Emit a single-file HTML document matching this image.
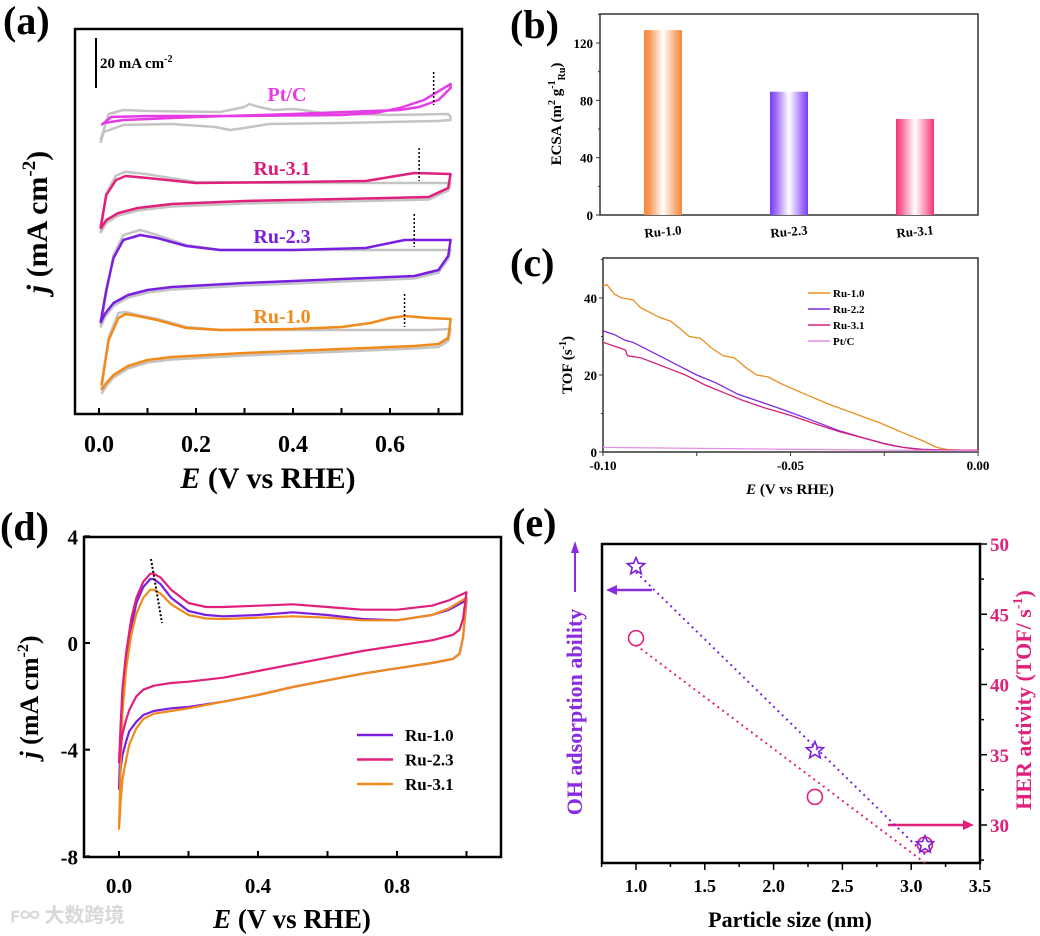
<!DOCTYPE html>
<html><head><meta charset="utf-8"><style>
html,body{margin:0;padding:0;background:#fff;}
svg{display:block;font-family:"Liberation Serif",serif;font-weight:bold;}
</style></head><body>
<svg id="fig" width="1040" height="936" viewBox="0 0 1040 936" xmlns="http://www.w3.org/2000/svg">
<defs>
<linearGradient id="gO" x1="0" x2="1" y1="0" y2="0"><stop offset="0" stop-color="#f5883a"/><stop offset="0.15" stop-color="#f79a5a"/><stop offset="0.5" stop-color="#fff"/><stop offset="0.85" stop-color="#f8a570"/><stop offset="1" stop-color="#f5883a"/></linearGradient>
<linearGradient id="gP" x1="0" x2="1" y1="0" y2="0"><stop offset="0" stop-color="#7a3cf5"/><stop offset="0.15" stop-color="#9a6af7"/><stop offset="0.5" stop-color="#fff"/><stop offset="0.85" stop-color="#9f70f8"/><stop offset="1" stop-color="#7a3cf5"/></linearGradient>
<linearGradient id="gK" x1="0" x2="1" y1="0" y2="0"><stop offset="0" stop-color="#f5307a"/><stop offset="0.15" stop-color="#f76a9a"/><stop offset="0.5" stop-color="#fff"/><stop offset="0.85" stop-color="#f870a0"/><stop offset="1" stop-color="#f5307a"/></linearGradient>
</defs>
<!-- panel labels -->
<text x="3" y="34" font-size="40">(a)</text>
<text x="510" y="38" font-size="40">(b)</text>
<text x="510" y="276" font-size="40">(c)</text>
<text x="0" y="540" font-size="40">(d)</text>
<text x="512" y="536" font-size="40">(e)</text>
<text x="10" y="922" font-size="20" fill="#d8d8d8" font-family="'Noto Sans CJK SC',sans-serif">ꜰ∞ 大数跨境</text>

<!-- panel a static -->
<g id="pa">
<rect x="75" y="29" width="387" height="385" fill="none" stroke="#000" stroke-width="2.5"/>
<line x1="96" y1="38" x2="96" y2="88" stroke="#000" stroke-width="2"/>
<text x="100" y="68" font-size="15">20 mA cm<tspan font-size="10" dy="-6">-2</tspan></text>
<text x="287" y="101" font-size="20" fill="#e63ce6" text-anchor="middle">Pt/C</text>
<text x="282" y="175" font-size="20" fill="#d81b7a" text-anchor="middle">Ru-3.1</text>
<text x="282" y="243" font-size="20" fill="#7a1fe0" text-anchor="middle">Ru-2.3</text>
<text x="282" y="323" font-size="20" fill="#f08a1a" text-anchor="middle">Ru-1.0</text>
<text transform="translate(47,222) rotate(-90)" font-size="30" text-anchor="middle"><tspan font-style="italic">j</tspan> (mA cm<tspan font-size="19" dy="-12">-2</tspan><tspan dy="12">)</tspan></text>
<text x="268" y="488" font-size="30" text-anchor="middle"><tspan font-style="italic">E</tspan> (V vs RHE)</text>
</g>

<!-- panel b static -->
<g id="pb">
<rect x="600" y="14" width="378" height="201" fill="none" stroke="#333" stroke-width="1.5"/>
<text transform="translate(561,114) rotate(-90)" font-size="15" text-anchor="middle">ECSA (m<tspan font-size="10" dy="-6">2</tspan><tspan dy="6"> g</tspan><tspan font-size="10" dy="-6">-1</tspan><tspan font-size="10" dy="10">Ru</tspan><tspan dy="-4">)</tspan></text>
</g>

<!-- panel c static -->
<g id="pc">
<rect x="603" y="258" width="375" height="194" fill="none" stroke="#333" stroke-width="1.5"/>
<text transform="translate(572,365) rotate(-90)" font-size="15" text-anchor="middle">TOF (s<tspan font-size="10" dy="-6">-1</tspan><tspan dy="6">)</tspan></text>
<text x="790" y="494" font-size="15" text-anchor="middle"><tspan font-style="italic">E</tspan> (V vs RHE)</text>
</g>

<!-- panel d static -->
<g id="pd">
<rect x="84" y="537" width="417" height="320" fill="none" stroke="#000" stroke-width="2.5"/>
<text transform="translate(38,697) rotate(-90)" font-size="26" text-anchor="middle"><tspan font-style="italic">j</tspan> (mA cm<tspan font-size="16" dy="-10">-2</tspan><tspan dy="10">)</tspan></text>
<text x="292" y="928" font-size="27" text-anchor="middle"><tspan font-style="italic">E</tspan> (V vs RHE)</text>
</g>

<!-- panel e static -->
<g id="pe">
<rect x="602" y="544" width="378" height="319" fill="none" stroke="#000" stroke-width="2.5"/>
<text x="790" y="927" font-size="22" text-anchor="middle">Particle size (nm)</text>
<text transform="translate(582,712) rotate(-90)" font-size="22" fill="#8a2be2" text-anchor="middle">OH adsorption ability</text>
<line x1="575" y1="592" x2="575" y2="550" stroke="#8a2be2" stroke-width="2"/>
<polygon points="575,541 571,553 579,553" fill="#8a2be2"/>
<text transform="translate(1031,700) rotate(-90)" font-size="22" fill="#e0207a" text-anchor="middle">HER activity (TOF/ s<tspan font-size="14" dy="-9">-1</tspan><tspan dy="9">)</tspan></text>
<line x1="652" y1="590" x2="614" y2="590" stroke="#8a2be2" stroke-width="2.5"/>
<polygon points="606,590 617,585 617,595" fill="#8a2be2"/>
<line x1="888" y1="825" x2="966" y2="825" stroke="#e0207a" stroke-width="2.5"/>
<polygon points="974,825 963,820 963,830" fill="#e0207a"/>
</g>
</svg>
<script>
// ===== Panel (a) data: CV curves (E in V, j in mA cm^-2 relative to each trace baseline)
const aRu10UpE=[0.005,0.02,0.04,0.055,0.08,0.12,0.18,0.25,0.4,0.5,0.56,0.6,0.63,0.68,0.725];
const aRu10UpJ=[-22,-4,4.8,6.4,5.6,4,0.8,0,0.4,1.2,2.8,4.8,5.6,4.8,4.4];
const aRu10LoE=[0.725,0.72,0.7,0.65,0.5,0.3,0.15,0.1,0.06,0.03,0.015,0.005];
const aRu10LoJ=[4,-3.2,-5.6,-6.4,-7.6,-9.2,-10.8,-12,-14.4,-18,-21.2,-24];
const aRu10GUpJ=[-24,-3,6.8,7.2,6,4.4,1.2,0,0,0,0,0,0,0,0.4];
const aRu10GLoJ=[0.4,-4.4,-6.8,-7.4,-8.6,-10.2,-11.8,-13,-15.4,-19,-22.4,-25.6];
const aRu23UpE=[0.003,0.015,0.03,0.05,0.085,0.12,0.18,0.25,0.4,0.55,0.6,0.63,0.68,0.725];
const aRu23UpJ=[-29.2,-16,-3.2,4,6,4.8,1.6,0,0,0.8,2.8,4,4,4];
const aRu23LoE=[0.725,0.72,0.7,0.65,0.5,0.3,0.15,0.1,0.06,0.03,0.012,0.003];
const aRu23LoJ=[4,-2.4,-8,-10.4,-11.6,-13.2,-14.8,-16,-18,-21.2,-25.6,-29.2];
const aRu23GUpJ=[-31,-17,-2,6,8,6,2,0,0,0,0,0,0,0];
const aRu23GLoJ=[0,-3.6,-9,-11.4,-12.6,-14.2,-15.8,-17,-19,-22.4,-27,-31];
const aRu31UpE=[0.003,0.015,0.035,0.055,0.1,0.2,0.4,0.55,0.6,0.65,0.725];
const aRu31UpJ=[-18,-4.8,1.2,2.8,2,0,0.4,0.8,2.4,4,3.6];
const aRu31LoE=[0.725,0.72,0.68,0.5,0.3,0.15,0.08,0.04,0.015,0.003];
const aRu31LoJ=[3.6,-2,-5.6,-6.4,-7.2,-8.4,-10,-12,-14.8,-18.4];
const aRu31GUpJ=[-20,-4,3,4.5,3.5,0.4,0,0,0,0,0];
const aRu31GLoJ=[0,-3,-6.6,-7.4,-8.2,-9.4,-11,-13,-16,-20];
const aPtUpE=[0.005,0.025,0.1,0.3,0.5,0.57,0.62,0.67,0.725];
const aPtUpJ=[-2,1.2,1.6,1.6,2,2.8,4.8,8,14.4];
const aPtLoE=[0.725,0.7,0.66,0.62,0.4,0.2,0.05,0.01,0.005];
const aPtLoJ=[12.8,8,5.2,4,2.4,1.2,0,-1.2,-2];
const aPtGUpE=[0.003,0.02,0.05,0.1,0.25,0.3,0.31,0.33,0.36,0.4,0.42,0.46,0.6,0.72,0.725];
const aPtGUpJ=[-8,2.4,4,3.6,3.2,5.2,6.4,5.2,4,4.4,4,2.8,2,2.4,1.2];
const aPtGLoE=[0.725,0.7,0.5,0.35,0.3,0.27,0.24,0.15,0.05,0.01,0.003];
const aPtGLoJ=[0,-0.4,-1.2,-1.6,-3.2,-4,-2.8,-1.6,-2,-4.8,-9.2];
const aMarkE=[0.69,0.66,0.65,0.63];
const aTicks=[0.0,0.2,0.4,0.6];
// ===== Panel (b) data
const bCats=["Ru-1.0","Ru-2.3","Ru-3.1"];
const bVals=[129,86,67];
const bTicks=[0,40,80,120];
// ===== Panel (c) data
const cRu10E=[-0.1,-0.099,-0.097,-0.095,-0.092,-0.09,-0.087,-0.085,-0.082,-0.08,-0.077,-0.074,-0.071,-0.068,-0.065,-0.062,-0.059,-0.056,-0.052,-0.046,-0.04,-0.033,-0.026,-0.02,-0.015,-0.011,-0.008,-0.004,0];
const cRu10V=[43,43.5,41,40,39.5,37.5,36,35,34,32.5,30,29.5,27,25,24.5,22,20,19.5,17.5,15,12.5,10,7.5,5,3,1.2,0.6,0.5,0.4];
const cRu22E=[-0.1,-0.097,-0.094,-0.092,-0.089,-0.086,-0.083,-0.079,-0.075,-0.07,-0.064,-0.058,-0.052,-0.045,-0.037,-0.03,-0.025,-0.02,-0.015,-0.008,0];
const cRu22V=[31.5,30.5,29,28.5,27,25.5,24,22,20,18,15,13,11,8.5,5.5,3.5,2.2,1.2,0.7,0.5,0.5];
const cRu31E=[-0.1,-0.097,-0.094,-0.0935,-0.09,-0.086,-0.082,-0.078,-0.073,-0.068,-0.063,-0.057,-0.05,-0.044,-0.037,-0.03,-0.025,-0.02,-0.015,-0.008,0];
const cRu31V=[28.5,27.5,26.5,25,24.5,23,21.5,20,17.5,15.5,13.5,11.5,9.5,7.5,5.3,3.5,2.1,1.2,0.6,0.5,0.5];
const cPtE=[-0.1,-0.05,0];
const cPtV=[1.2,0.7,0.3];
const cYTicks=[0,20,40];
const cXTicks=[-0.10,-0.05,0.00];
const cXTickLabels=["-0.10","-0.05","0.00"];
const cLegend=["Ru-1.0","Ru-2.2","Ru-3.1","Pt/C"];
// ===== Panel (d) data
const dRu10UpE=[0,0.005,0.01,0.02,0.035,0.05,0.07,0.09,0.1,0.12,0.15,0.2,0.25,0.3,0.4,0.5,0.6,0.7,0.8,0.9,0.95,1.0];
const dRu10UpJ=[-5.5,-3.5,-2,-0.7,0.6,1.5,2.1,2.4,2.4,2.2,1.7,1.2,1.05,1.0,1.05,1.15,1.05,0.9,0.85,1.05,1.25,1.6];
const dRu10LoE=[1.0,0.99,0.98,0.96,0.9,0.8,0.7,0.6,0.5,0.4,0.3,0.2,0.15,0.1,0.07,0.05,0.03,0.02,0.01,0.005,0];
const dRu10LoJ=[1.6,0.2,-0.4,-0.6,-0.75,-0.95,-1.15,-1.4,-1.65,-1.95,-2.2,-2.4,-2.45,-2.55,-2.7,-2.95,-3.3,-3.7,-4.2,-4.7,-5.5];
const dRu23UpE=[0,0.005,0.01,0.02,0.035,0.05,0.07,0.09,0.1,0.12,0.15,0.2,0.25,0.3,0.4,0.5,0.6,0.7,0.8,0.9,0.95,1.0];
const dRu23UpJ=[-4.5,-3,-1.7,-0.4,0.9,1.7,2.3,2.6,2.6,2.45,2.0,1.5,1.35,1.35,1.4,1.45,1.35,1.25,1.25,1.4,1.6,1.9];
const dRu23LoE=[1.0,0.99,0.98,0.96,0.9,0.8,0.7,0.6,0.5,0.4,0.3,0.2,0.15,0.1,0.07,0.05,0.03,0.02,0.01,0.005,0];
const dRu23LoJ=[1.9,0.9,0.5,0.3,0.1,-0.1,-0.3,-0.55,-0.8,-1.05,-1.3,-1.45,-1.5,-1.6,-1.75,-2.0,-2.5,-2.9,-3.4,-3.9,-4.5];
const dRu31UpE=[0,0.005,0.01,0.02,0.035,0.05,0.07,0.09,0.1,0.12,0.15,0.2,0.25,0.3,0.4,0.5,0.6,0.7,0.8,0.9,0.95,1.0];
const dRu31UpJ=[-7,-4.5,-2.6,-1.0,0.3,1.1,1.7,2.0,2.0,1.85,1.45,1.05,0.92,0.9,0.95,1.0,0.95,0.85,0.85,1.05,1.3,1.7];
const dRu31LoE=[1.0,0.99,0.98,0.96,0.9,0.8,0.7,0.6,0.5,0.4,0.3,0.2,0.15,0.1,0.07,0.05,0.03,0.02,0.01,0.005,0];
const dRu31LoJ=[1.7,0.2,-0.4,-0.6,-0.75,-0.95,-1.15,-1.4,-1.65,-1.95,-2.2,-2.45,-2.55,-2.65,-2.85,-3.2,-3.8,-4.4,-5.1,-5.9,-7];
const dYTicks=[4,0,-4,-8];
const dXTicks=[0.0,0.4,0.8];
const dLegend=["Ru-1.0","Ru-2.3","Ru-3.1"];
// ===== Panel (e) data
const eSizes=[1.0,2.3,3.1];
const eOH=[48.4,35.3,28.6];
const eHER=[43.3,32.0,28.6];
const eFitX=[1.0,3.1];
const eFitOH=[48.0,27.9];
const eFitHER=[42.8,27.3];
const eXTicks=[1.0,1.5,2.0,2.5,3.0,3.5];
const eYTicks=[30,35,40,45,50];

const NS="http://www.w3.org/2000/svg";
const svg=document.getElementById('fig');
function mk(tag,attrs,parent){const el=document.createElementNS(NS,tag);for(const k in attrs)el.setAttribute(k,attrs[k]);(parent||svg).appendChild(el);return el;}
function pathD(xs,ys,fx,fy){return xs.map((x,i)=>(i?'L':'M')+fx(x).toFixed(1)+','+fy(ys[i]).toFixed(1)).join(' ');}

// ---- Panel a
const pa=document.getElementById('pa');
const xa=E=>99+E*485;
function curveA(upE,upJ,loE,loJ,off,color,name,w){
  const fy=j=>off-j*2.5;
  const d=pathD(upE,upJ,xa,fy)+' '+pathD(loE,loJ,xa,fy).replace(/^M/,'L');
  const p=mk('path',{d:d,fill:'none',stroke:color,'stroke-width':w,'stroke-linejoin':'round'},pa);
  
  
}
curveA(aPtGUpE,aPtGUpJ,aPtGLoE,aPtGLoJ,120,'#c4c4c4','ptc-ref-curve',2.5);
curveA(aRu31UpE,aRu31GUpJ,aRu31LoE,aRu31GLoJ,183,'#c4c4c4','ru31-ref-curve',2.5);
curveA(aRu23UpE,aRu23GUpJ,aRu23LoE,aRu23GLoJ,250,'#c4c4c4','ru23-ref-curve',2.5);
curveA(aRu10UpE,aRu10GUpJ,aRu10LoE,aRu10GLoJ,330,'#c4c4c4','ru10-ref-curve',2.5);
curveA(aPtUpE,aPtUpJ,aPtLoE,aPtLoJ,120,'#e63ce6','ptc-curve',2.5);
curveA(aRu31UpE,aRu31UpJ,aRu31LoE,aRu31LoJ,183,'#e0207a','ru31-curve',2.5);
curveA(aRu23UpE,aRu23UpJ,aRu23LoE,aRu23LoJ,250,'#7a1fe0','ru23-curve',2.5);
curveA(aRu10UpE,aRu10UpJ,aRu10LoE,aRu10LoJ,330,'#f08a1a','ru10-curve',2.5);
const markTop=[72,148,214,294];
aMarkE.forEach((E,i)=>{
  const l=mk('line',{x1:xa(E),x2:xa(E),y1:markTop[i],y2:markTop[i]+33,stroke:'#000','stroke-width':1.5,'stroke-dasharray':'2,2'},pa);
  
  
});
for(let E=0;E<=0.7001;E+=0.1){
  const t=mk('line',{x1:xa(E),x2:xa(E),y1:414,y2:408,stroke:'#000','stroke-width':2},pa);
  
  
}
aTicks.forEach(v=>{
  const t=mk('text',{x:xa(v),y:452,'font-size':24,'text-anchor':'middle'},pa);
  t.textContent=v.toFixed(1);
  
  
});

// ---- Panel b
const pb=document.getElementById('pb');
const yb=v=>215-v*(172/120);
const bx=[663,789,915];
const bFill=['url(#gO)','url(#gP)','url(#gK)'];
bVals.forEach((v,i)=>{
  const r=mk('rect',{x:bx[i]-19,y:yb(v),width:38,height:215-yb(v),fill:bFill[i]},pb);
  
  
  const t=mk('text',{x:bx[i],y:236,'font-size':13,'text-anchor':'middle',transform:`rotate(-5 ${bx[i]} 232)`},pb);
  t.textContent=bCats[i];
  
  
});
for(let v=0;v<=140;v+=20){
  const maj=v%40===0;
  const t=mk('line',{x1:600,x2:maj?596:598,y1:yb(v),y2:yb(v),stroke:'#333','stroke-width':1},pb);
  
  
}
bTicks.forEach(v=>{
  const t=mk('text',{x:593,y:yb(v)+5,'font-size':13,'text-anchor':'end'},pb);
  t.textContent=v;
  
  
});

// ---- Panel c
const pc=document.getElementById('pc');
const xc=E=>978+E*3750;
const yc=v=>452-v*3.85;
const cSeries=[[cRu10E,cRu10V,'#e8901e','tof-ru10-line'],[cRu22E,cRu22V,'#7a2be0','tof-ru22-line'],[cRu31E,cRu31V,'#d8207a','tof-ru31-line'],[cPtE,cPtV,'#e58fe5','tof-ptc-line']];
cSeries.forEach(s=>{
  const p=mk('path',{d:pathD(s[0],s[1],xc,yc),fill:'none',stroke:s[2],'stroke-width':1.3},pc);
  
  
});
for(let v=0;v<=50;v+=10){
  const t=mk('line',{x1:603,x2:v%20===0?599:601,y1:yc(v),y2:yc(v),stroke:'#333','stroke-width':1},pc);
  
  
}
cYTicks.forEach(v=>{
  const t=mk('text',{x:597,y:yc(v)+5,'font-size':13,'text-anchor':'end'},pc);
  t.textContent=v;
  
  
});
[-0.1,-0.075,-0.05,-0.025,0].forEach(E=>{
  const t=mk('line',{x1:xc(E),x2:xc(E),y1:452,y2:456,stroke:'#333','stroke-width':1},pc);
  
  
});
cXTicks.forEach((v,i)=>{
  const t=mk('text',{x:xc(v),y:470,'font-size':13,'text-anchor':'middle'},pc);
  t.textContent=cXTickLabels[i];
  
  
});
cLegend.forEach((n,i)=>{
  const y=293+i*16;
  const l=mk('line',{x1:808,x2:830,y1:y,y2:y,stroke:cSeries[i][2],'stroke-width':1.5},pc);
  
  
  const t=mk('text',{x:833,y:y+4,'font-size':11},pc);
  t.textContent=n;
  
  
});

// ---- Panel d
const pd=document.getElementById('pd');
const xd=E=>119+E*347.5;
const yd=j=>643-j*26.67;
const dSeries=[[dRu10UpE,dRu10UpJ,dRu10LoE,dRu10LoJ,'#7a1fe0','cv-ru10-curve'],[dRu31UpE,dRu31UpJ,dRu31LoE,dRu31LoJ,'#f08a1a','cv-ru31-curve'],[dRu23UpE,dRu23UpJ,dRu23LoE,dRu23LoJ,'#e0207a','cv-ru23-curve']];
dSeries.forEach(s=>{
  const d=pathD(s[0],s[1],xd,yd)+' '+pathD(s[2],s[3],xd,yd).replace(/^M/,'L');
  const p=mk('path',{d:d,fill:'none',stroke:s[4],'stroke-width':2.2,'stroke-linejoin':'round'},pd);
  
  
});
const dl=mk('line',{x1:151,y1:559,x2:162,y2:623,stroke:'#000','stroke-width':2,'stroke-dasharray':'2,2'},pd);


dYTicks.forEach(v=>{
  const t=mk('line',{x1:84,x2:90,y1:yd(v),y2:yd(v),stroke:'#000','stroke-width':2},pd);
  
  
  const tx=mk('text',{x:78,y:yd(v)+8,'font-size':21,'text-anchor':'end'},pd);
  tx.textContent=v;
  
  
});
[0,0.2,0.4,0.6,0.8,1.0].forEach(E=>{
  const t=mk('line',{x1:xd(E),x2:xd(E),y1:857,y2:851,stroke:'#000','stroke-width':2},pd);
  
  
});
dXTicks.forEach(v=>{
  const t=mk('text',{x:xd(v),y:893,'font-size':21,'text-anchor':'middle'},pd);
  t.textContent=v.toFixed(1);
  
  
});
const dCol=['#7a1fe0','#e0207a','#f08a1a'];
dLegend.forEach((n,i)=>{
  const y=735+i*24.5;
  const l=mk('line',{x1:357,x2:393,y1:y,y2:y,stroke:dCol[i],'stroke-width':2.5},pd);
  
  
  const t=mk('text',{x:405,y:y+6,'font-size':17},pd);
  t.textContent=n;
  
  
});

// ---- Panel e
const pe=document.getElementById('pe');
const xe=s=>636+(s-1)*137.6;
const ye=v=>544+(50-v)*14.05;
const f1=mk('path',{d:pathD(eFitX,eFitOH,xe,ye),stroke:'#7a1fe0','stroke-width':2,'stroke-dasharray':'2,4',fill:'none'},pe);


const f2=mk('path',{d:pathD(eFitX,eFitHER,xe,ye),stroke:'#e0207a','stroke-width':2,'stroke-dasharray':'2,4',fill:'none'},pe);


function starPts(cx,cy,R,r){const p=[];for(let k=0;k<10;k++){const a=-Math.PI/2+k*Math.PI/5;const rr=k%2?r:R;p.push((cx+rr*Math.cos(a)).toFixed(1)+','+(cy+rr*Math.sin(a)).toFixed(1));}return p.join(' ');}
eSizes.forEach((s,i)=>{
  const c=mk('circle',{cx:xe(s),cy:ye(eHER[i]),r:7.5,fill:'none',stroke:'#e0207a','stroke-width':1.6},pe);
  
  
  const st=mk('polygon',{points:starPts(xe(s),ye(eOH[i]),9,4),fill:'none',stroke:'#7a1fe0','stroke-width':1.6},pe);
  
  
});
for(let s=0.75;s<=3.5001;s+=0.25){
  const maj=Math.abs(s*2-Math.round(s*2))<1e-6;
  const t=mk('line',{x1:xe(s),x2:xe(s),y1:863,y2:maj?870:867,stroke:'#000','stroke-width':1.5},pe);
  
  
}
eXTicks.forEach(v=>{
  const t=mk('text',{x:xe(v),y:892,'font-size':18,'text-anchor':'middle'},pe);
  t.textContent=v.toFixed(1);
  
  
});
for(let v=27.5;v<=50;v+=2.5){
  const maj=v%5===0;
  const t=mk('line',{x1:980,x2:maj?987:984,y1:ye(v),y2:ye(v),stroke:'#000','stroke-width':1.5},pe);
  
  
}
eYTicks.forEach(v=>{
  const t=mk('text',{x:990,y:ye(v)+7,'font-size':19,fill:'#e0207a'},pe);
  t.textContent=v;
  
  
});
</script>
</body></html>
